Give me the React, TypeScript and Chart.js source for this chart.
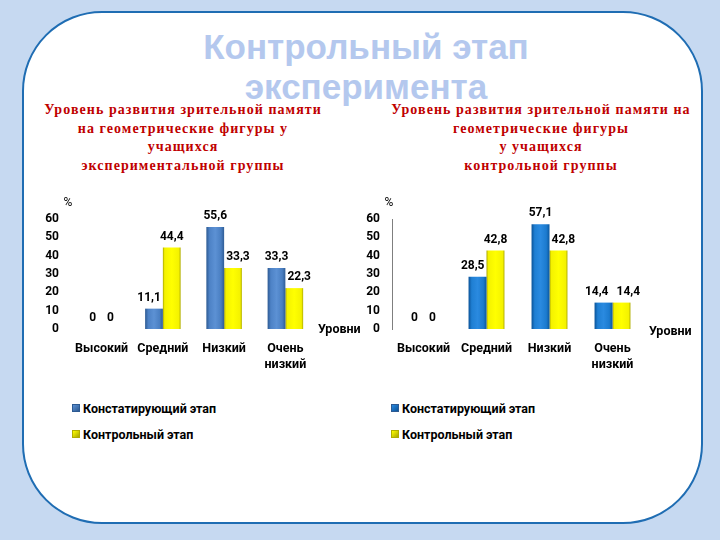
import React, { useEffect, useRef } from "react";
import { Chart, registerables } from "chart.js";

Chart.register(...registerables);

// ---- data ----
const categories: (string | string[])[] = ["Высокий", "Средний", "Низкий", ["Очень", "низкий"]];
const seriesNames = ["Констатирующий этап", "Контрольный этап"];
const expInitial = [0, 11.1, 55.6, 33.3];
const expControl = [0, 44.4, 33.3, 22.3];
const ctrlInitial = [0, 28.5, 57.1, 14.4];
const ctrlControl = [0, 42.8, 42.8, 14.4];
const yTickValues = [0, 10, 20, 30, 40, 50, 60];
const titleLines = ["Контрольный этап", "эксперимента"];
const leftSubtitle = [
  "Уровень развития зрительной памяти",
  "на геометрические фигуры у",
  "учащихся",
  "экспериментальной группы",
];
const rightSubtitle = [
  "Уровень развития зрительной памяти на",
  "геометрические фигуры",
  "у учащихся",
  "контрольной группы",
];
const yAxisTitle = "%";
const xAxisTitle = "Уровни";

const FONT = "Roboto, 'Noto Sans', sans-serif";

type Stops = [number, string][];
const blueLeft: Stops = [[0, "#2d5a92"], [0.18, "#4d82c6"], [0.5, "#5c91d4"], [0.82, "#4a7fc2"], [1, "#2f5d96"]];
const blueRight: Stops = [[0, "#0b5398"], [0.18, "#1f7fd3"], [0.5, "#2a8ae0"], [0.82, "#1c7bcf"], [1, "#0c589f"]];
const yellow: Stops = [[0, "#a9a600"], [0.1, "#f4f200"], [0.5, "#ffff00"], [0.9, "#f4f200"], [1, "#b0ad00"]];

function fmt(v: number) {
  return String(v).replace(".", ",");
}

function barFill(stops: Stops, catPct: number) {
  return (c: any) => {
    const chart = c.chart;
    const xs = chart.scales && chart.scales.x;
    if (!xs || !chart.chartArea || c.dataIndex === undefined) return stops[2][1];
    const n = chart.data.labels.length;
    const cw = xs.width / n;
    const gw = cw * catPct;
    const bw = gw / 2;
    const center = xs.getPixelForValue(c.dataIndex);
    const left = center - gw / 2 + c.datasetIndex * bw;
    const g = chart.ctx.createLinearGradient(left, 0, left + bw, 0);
    stops.forEach(([o, col]) => g.addColorStop(o, col));
    return g;
  };
}

// value labels above bars; nudged sideways (like the original) where they would collide
const valueLabels = {
  id: "valueLabels",
  afterDatasetsDraw(chart: any) {
    const ctx = chart.ctx;
    ctx.save();
    ctx.font = `bold 12px ${FONT}`;
    ctx.fillStyle = "#000";
    ctx.textAlign = "center";
    ctx.textBaseline = "middle";
    const m0 = chart.getDatasetMeta(0);
    const m1 = chart.getDatasetMeta(1);
    const d0 = chart.data.datasets[0].data;
    const d1 = chart.data.datasets[1].data;
    const lift = 11;
    const half = 6;
    for (let i = 0; i < d0.length; i++) {
      const e0 = m0.data[i];
      const e1 = m1.data[i];
      const t0 = fmt(d0[i]);
      const t1 = fmt(d1[i]);
      const w0 = ctx.measureText(t0).width;
      const w1 = ctx.measureText(t1).width;
      let x0 = e0.x;
      let x1 = e1.x;
      const y0 = e0.y - lift;
      const y1 = e1.y - lift;
      // label of blue bar overlapping a taller yellow bar
      if (e1.y < y0 + half && x0 + w0 / 2 > e1.x - e1.width / 2 - 2) {
        x0 = e1.x - e1.width / 2 - 2 - w0 / 2;
      }
      // label of yellow bar overlapping a taller blue bar
      if (e0.y < y1 + half && x1 - w1 / 2 < e0.x + e0.width / 2 + 2) {
        x1 = e0.x + e0.width / 2 + 2 + w1 / 2;
      }
      // two labels at the same height overlapping each other
      if (Math.abs(y0 - y1) < 2 * half) {
        const need = (w0 + w1) / 2 + 8;
        const have = x1 - x0;
        if (have < need && !(d0[i] === 0 && d1[i] === 0)) {
          const s = (need - have) / 2;
          x0 -= s;
          x1 += s;
        }
      }
      ctx.fillText(t0, x0, y0);
      ctx.fillText(t1, x1, y1);
    }
    ctx.restore();
  },
};

function axisTitles(pctDx: number, lvlDx: number, lvlDy: number) {
  return {
    id: "axisTitles",
    afterDraw(chart: any) {
      const { ctx, chartArea } = chart;
      ctx.save();
      ctx.fillStyle = "#000";
      ctx.textBaseline = "middle";
      ctx.font = `12px ${FONT}`;
      ctx.textAlign = "center";
      ctx.fillText(yAxisTitle, chartArea.left + pctDx, chartArea.top - 16);
      ctx.font = `bold 12.5px ${FONT}`;
      ctx.textAlign = "left";
      ctx.fillText(xAxisTitle, chartArea.right + lvlDx, chartArea.bottom + lvlDy);
      ctx.restore();
    },
  };
}

function makeChart(
  canvas: HTMLCanvasElement,
  a: number[],
  b: number[],
  blue: Stops,
  cfg: { yW: number; padR: number; padT: number; xH: number; catPct: number; axis: boolean; pctDx: number; lvlDx: number; lvlDy: number }
) {
  const xFont = { family: FONT, size: 12.5, weight: "bold" as const, lineHeight: 1.35 };
  const yFont = { family: FONT, size: 12, weight: "bold" as const };
  return new Chart(canvas, {
    type: "bar",
    data: {
      labels: categories as any,
      datasets: [
        {
          label: seriesNames[0],
          data: a,
          backgroundColor: barFill(blue, cfg.catPct) as any,
          borderWidth: 0,
          categoryPercentage: cfg.catPct,
          barPercentage: 1,
        },
        {
          label: seriesNames[1],
          data: b,
          backgroundColor: barFill(yellow, cfg.catPct) as any,
          borderWidth: 0,
          categoryPercentage: cfg.catPct,
          barPercentage: 1,
        },
      ],
    },
    options: {
      responsive: false,
      animation: false,
      events: [],
      layout: { padding: { left: 0, right: cfg.padR, top: cfg.padT, bottom: 0 } },
      plugins: { legend: { display: false }, tooltip: { enabled: false } },
      scales: {
        x: {
          grid: { display: false, drawTicks: false },
          border: { display: false },
          ticks: { color: "#000", font: xFont, padding: 11, maxRotation: 0, autoSkip: false },
          afterFit: (s: any) => {
            s.height = cfg.xH;
          },
        },
        y: {
          min: 0,
          max: 60,
          afterBuildTicks: (s: any) => {
            s.ticks = yTickValues.map((v) => ({ value: v }));
          },
          grid: { display: false, drawTicks: false },
          border: { display: cfg.axis, color: "#7f7f7f", width: 1 },
          ticks: { color: "#000", font: yFont, padding: 12, autoSkip: false },
          afterFit: (s: any) => {
            s.width = cfg.yW;
          },
        },
      },
    },
    plugins: [valueLabels, axisTitles(cfg.pctDx, cfg.lvlDx, cfg.lvlDy)],
  });
}

function Legend({ left, top, blue }: { left: number; top: number; blue: Stops }) {
  const sq = (stops: Stops, border: string) => ({
    width: 8,
    height: 8,
    background: `linear-gradient(135deg, ${stops[2][1]}, ${stops[0][1]})`,
    border: `1px solid ${border}`,
    boxSizing: "border-box" as const,
    marginRight: 3,
  });
  const row = (y: number, stops: Stops, border: string, text: string) => (
    <div
      style={{
        position: "absolute",
        left,
        top: top + y - 9,
        height: 18,
        display: "flex",
        alignItems: "center",
        font: `bold 12.5px ${FONT}`,
        color: "#000",
        whiteSpace: "nowrap",
      }}
    >
      <div style={sq(stops, border)} />
      <span>{text}</span>
    </div>
  );
  return (
    <>
      {row(0, blue, "#2d5a92", seriesNames[0])}
      {row(26, yellow, "#b0ad00", seriesNames[1])}
    </>
  );
}

export default function App() {
  const leftRef = useRef<HTMLCanvasElement>(null);
  const rightRef = useRef<HTMLCanvasElement>(null);

  useEffect(() => {
    const c1 = makeChart(leftRef.current!, expInitial, expControl, blueLeft, {
      yW: 41,
      padR: 49,
      padT: 29,
      xH: 51,
      catPct: 0.58,
      axis: false,
      pctDx: -3,
      lvlDx: 2,
      lvlDy: 1,
    });
    const c2 = makeChart(rightRef.current!, ctrlInitial, ctrlControl, blueRight, {
      yW: 32,
      padR: 76,
      padT: 29,
      xH: 51,
      catPct: 0.57,
      axis: true,
      pctDx: -3,
      lvlDx: 5,
      lvlDy: 3,
    });
    return () => {
      c1.destroy();
      c2.destroy();
    };
  }, []);

  const subStyle = (cx: number): React.CSSProperties => ({
    position: "absolute",
    left: cx - 180,
    width: 360,
    top: 101,
    textAlign: "center",
    font: "bold 14px 'Liberation Serif', 'Times New Roman', serif",
    letterSpacing: "1.05px",
    lineHeight: "18.7px",
    color: "#c00000",
    whiteSpace: "nowrap",
  });

  return (
    <div style={{ position: "fixed", left: 0, top: 0, width: 720, height: 540, background: "#c6d9f1", overflow: "hidden" }}>
      <div
        style={{
          position: "absolute",
          left: 22,
          top: 11,
          width: 681,
          height: 513,
          background: "#fff",
          border: "2.5px solid #1f6db3",
          borderRadius: 80,
          boxSizing: "border-box",
        }}
      />
      <div
        style={{
          position: "absolute",
          left: 0,
          width: 732,
          top: 27,
          textAlign: "center",
          font: "bold 35px 'Liberation Sans', Arial, sans-serif",
          lineHeight: "40px",
          color: "#b4c8ee",
        }}
      >
        {titleLines.map((t, i) => (
          <div key={i}>{t}</div>
        ))}
      </div>
      <div style={subStyle(183)}>
        {leftSubtitle.map((t, i) => (
          <div key={i}>{t}</div>
        ))}
      </div>
      <div style={subStyle(541)}>
        {rightSubtitle.map((t, i) => (
          <div key={i}>{t}</div>
        ))}
      </div>
      <canvas ref={leftRef} width={335} height={190} style={{ position: "absolute", left: 30, top: 190, width: 335, height: 190 }} />
      <canvas ref={rightRef} width={360} height={190} style={{ position: "absolute", left: 360, top: 190, width: 360, height: 190 }} />
      <Legend left={72} top={408} blue={blueLeft} />
      <Legend left={391} top={408} blue={blueRight} />
    </div>
  );
}
